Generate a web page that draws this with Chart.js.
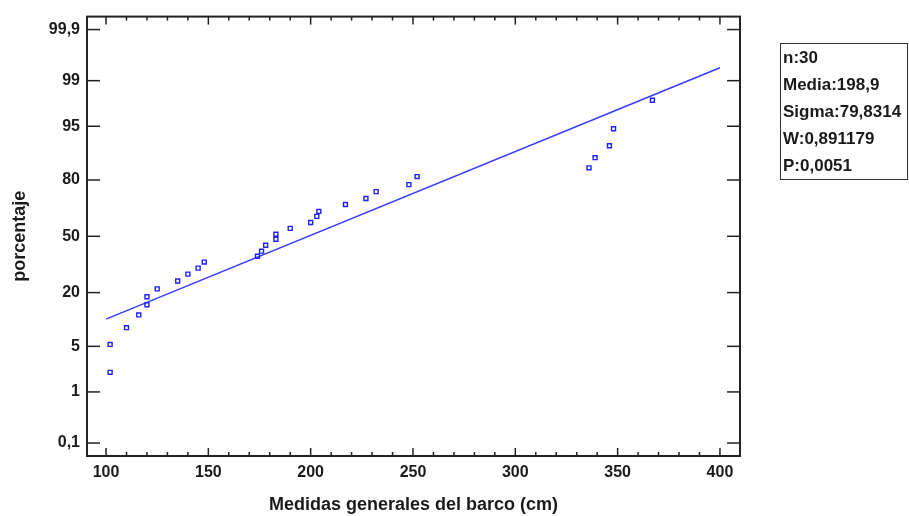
<!DOCTYPE html>
<html>
<head>
<meta charset="utf-8">
<script src="https://cdn.jsdelivr.net/npm/chart.js@4.4.1/dist/chart.umd.min.js"></script>
<style>
  body{margin:0;background:#fff;}
  #wrap{position:relative;width:909px;height:516px;}
  #stats{
    position:absolute;left:780px;top:43px;width:128px;
    border:1px solid #333;box-sizing:border-box;padding-left:2px;
    font:bold 17px "Liberation Sans",Arial,sans-serif;color:#1a1a1a;
    line-height:27px;white-space:nowrap;
  }
</style>
</head>
<body>
<div id="wrap">
  <canvas id="grafico" width="909" height="516"></canvas>
  <div id="stats"></div>
</div>
<script>
// ===== DATA =====
const medidas = [102,102,110,116,120,120,125,135,140,145,148,174,176,178,183,
                 183,190,200,203,204,217,227,232,248,252,336,339,346,348,367];
const porcentajes = [2.1,5.3,8.6,12.0,15.3,18.3,21.6,25.2,28.6,31.7,35.0,38.3,41.2,44.7,48.2,
                     51.2,54.7,58.2,61.7,64.5,68.3,71.4,74.8,78.0,81.4,84.7,88.0,91.2,94.6,97.9];

const yTickValues = [0.1,1,5,20,50,80,95,99,99.9];
const yTickText = ['0,1','1','5','20','50','80','95','99','99,9'];
const xTickValues = [100,150,200,250,300,350,400];
const xMinorStep = 10;

const media = 198.9;
const sigma = 79.8314;
const ajusteX = [100,400];

const statsText = ['n:30','Media:198,9','Sigma:79,8314','W:0,891179','P:0,0051'];

// ===== PROBIT (escala normal) =====
function probit(p){
  const a=[-3.969683028665376e+01,2.209460984245205e+02,-2.759285104469687e+02,1.383577518672690e+02,-3.066479806614716e+01,2.506628277459239e+00];
  const b=[-5.447609879822406e+01,1.615858368580409e+02,-1.556989798598866e+02,6.680131188771972e+01,-1.328068155288572e+01];
  const c=[-7.784894002430293e-03,-3.223964580411365e-01,-2.400758277161838e+00,-2.549732539343734e+00,4.374664141464968e+00,2.938163982698783e+00];
  const d=[7.784695709041462e-03,3.224671290700398e-01,2.445134137142996e+00,3.754408661907416e+00];
  const pl=0.02425, ph=1-pl;
  let q,r;
  if(p<pl){
    q=Math.sqrt(-2*Math.log(p));
    return (((((c[0]*q+c[1])*q+c[2])*q+c[3])*q+c[4])*q+c[5])/((((d[0]*q+d[1])*q+d[2])*q+d[3])*q+1);
  }
  if(p>ph){
    q=Math.sqrt(-2*Math.log(1-p));
    return -(((((c[0]*q+c[1])*q+c[2])*q+c[3])*q+c[4])*q+c[5])/((((d[0]*q+d[1])*q+d[2])*q+d[3])*q+1);
  }
  q=p-0.5; r=q*q;
  return (((((a[0]*r+a[1])*r+a[2])*r+a[3])*r+a[4])*r+a[5])*q/(((((b[0]*r+b[1])*r+b[2])*r+b[3])*r+b[4])*r+1);
}

// ===== STATS BOX =====
document.getElementById('stats').innerHTML = statsText.map(t=>`<div>${t}</div>`).join('');

// ===== FRAME + TICKS INTERNOS =====
const frameTicks = {
  id:'frameTicks',
  afterDatasetsDraw(chart){
    const {ctx, chartArea:a, scales:{x,y}} = chart;
    const line = (x1,y1,x2,y2)=>{ ctx.beginPath(); ctx.moveTo(x1,y1); ctx.lineTo(x2,y2); ctx.stroke(); };
    ctx.save();
    ctx.strokeStyle = '#222';
    ctx.lineWidth = 1.5;
    for(let v = xTickValues[0]; v <= xTickValues[xTickValues.length-1]; v += xMinorStep){
      const px = x.getPixelForValue(v);
      const len = xTickValues.includes(v) ? 8 : 4;
      line(px,a.bottom,px,a.bottom-len);
      line(px,a.top,px,a.top+len);
    }
    yTickValues.forEach(p=>{
      const py = y.getPixelForValue(probit(p/100));
      line(a.left,py,a.left+13,py);
      line(a.right,py,a.right-13,py);
    });
    ctx.lineWidth = 2;
    ctx.strokeRect(a.left,a.top,a.right-a.left,a.bottom-a.top);
    ctx.restore();
  }
};

// ===== CHART =====
const fuente = { family:'"Liberation Sans", Arial, sans-serif', weight:'bold' };

new Chart(document.getElementById('grafico'), {
  type:'scatter',
  data:{
    datasets:[
      {
        label:'datos',
        data: medidas.map((m,i)=>({x:m, y:probit(porcentajes[i]/100)})),
        pointStyle:'rect',
        pointRadius:2.8,
        borderWidth:1.4,
        borderColor:'#1f1fff',
        backgroundColor:'rgba(255,255,255,0)'
      },
      {
        label:'ajuste',
        type:'line',
        data: ajusteX.map(v=>({x:v, y:(v-media)/sigma})),
        borderColor:'#3a3aff',
        borderWidth:1.5,
        pointRadius:0,
        fill:false
      }
    ]
  },
  options:{
    responsive:false,
    animation:false,
    layout:{ padding:{ left:0, right:169, top:14, bottom:0 } },
    plugins:{ legend:{display:false}, tooltip:{enabled:false} },
    scales:{
      x:{
        type:'linear',
        min:90.7, max:409.8,
        afterBuildTicks:s=>{ s.ticks = xTickValues.map(v=>({value:v})); },
        afterFit:s=>{ s.height = 60; },
        grid:{ display:false, drawTicks:false },
        border:{ display:false },
        ticks:{ padding:7, color:'#1a1a1a', font:{...fuente, size:16} },
        title:{ display:true, text:'Medidas generales del barco (cm)', color:'#1a1a1a',
                font:{...fuente, size:18}, padding:{top:0,bottom:0} }
      },
      y:{
        min:-3.284, max:3.284,
        afterBuildTicks:s=>{ s.ticks = yTickValues.map(p=>({value:probit(p/100)})); },
        afterFit:s=>{ s.width = 87; },
        grid:{ display:false, drawTicks:false },
        border:{ display:false },
        ticks:{ padding:7, color:'#1a1a1a', font:{...fuente, size:16},
                callback:(v,i)=>yTickText[i] },
        title:{ display:true, text:'porcentaje', color:'#1a1a1a',
                font:{...fuente, size:18}, padding:{top:9,bottom:0} }
      }
    }
  },
  plugins:[frameTicks]
});
</script>
</body>
</html>
